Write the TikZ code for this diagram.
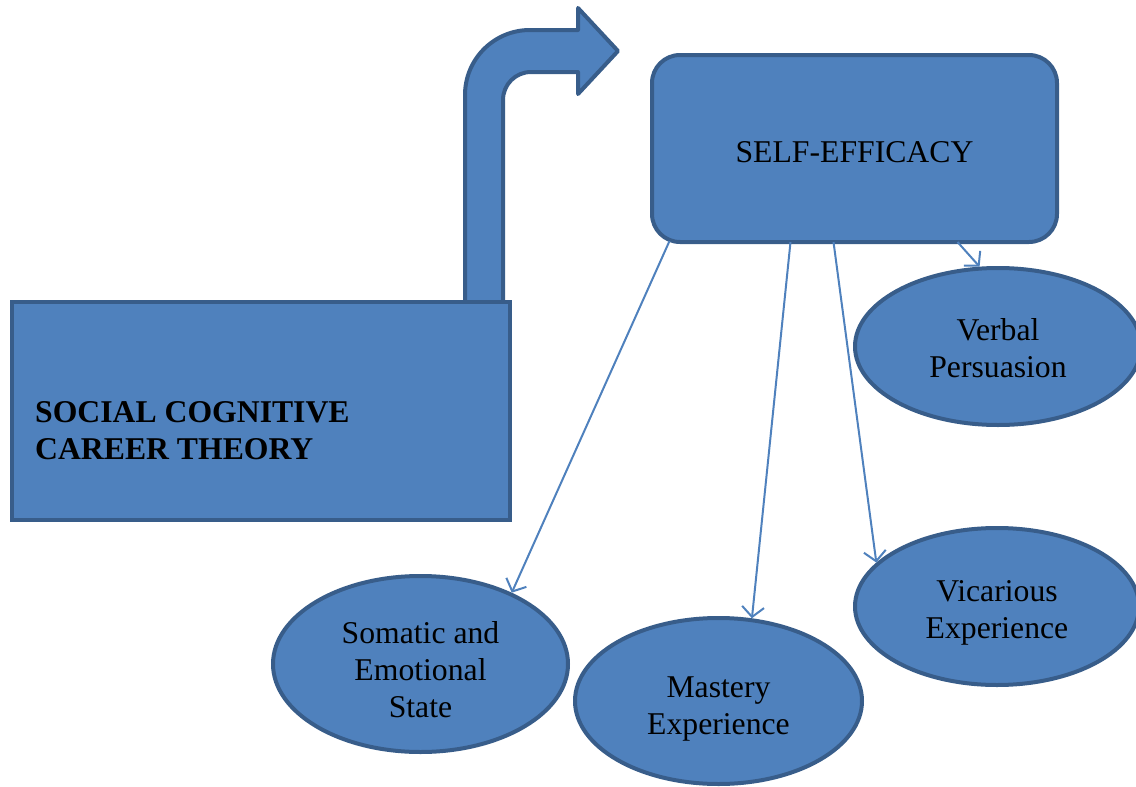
\documentclass[tikz,border=0pt]{standalone}
\usepackage{fontspec}
\setmainfont{Liberation Serif}
\usetikzlibrary{shapes.geometric,arrows.meta}
\definecolor{boxblue}{HTML}{4F81BD}
\definecolor{edgeblue}{HTML}{385D8A}
\newcommand{\diagfont}{\fontsize{31.7}{37}\selectfont}
\newcommand{\ovalpad}[1]{\rule{0pt}{#1}}
\tikzstyle{bluebox}=[rectangle,draw=edgeblue,fill=boxblue,
                     line width=4pt,inner sep=0pt,font=\diagfont]
\tikzstyle{blueoval}=[ellipse,draw=edgeblue,fill=boxblue,
                      line width=4pt,inner sep=0pt,align=center,font=\diagfont]
\tikzstyle{link}=[draw=boxblue,line width=2pt,
                  -{Straight Barb[length=10pt,width=22pt]}]

\begin{document}
\begin{tikzpicture}[x=1pt,y=-1pt]
    \useasboundingbox (0,0) rectangle (1136,787);
    \draw[draw=edgeblue,fill=boxblue,line width=4pt,line join=round]
      (465,302) -- (465,95) .. controls (465,59) and (494,30) .. (530,30)
      -- (578,30) -- (578,8) -- (618,51) -- (578,94) -- (578,72) -- (531,72)
      .. controls (515.5,72) and (503,84.5) .. (503,100) -- (503,302) -- cycle;
    \node (scct) at (261,411) [bluebox,minimum width=498pt,minimum height=218pt]{};
    \node (scctlabel) at (35,431) [anchor=west,align=left,inner sep=0pt,
      font=\bfseries\diagfont]{SOCIAL COGNITIVE\\CAREER THEORY};
    \node (self) at (854.5,148.5) [bluebox,rounded corners=28pt,
      minimum width=405pt,minimum height=187pt]{\ovalpad{28pt}SELF-EFFICACY};
    \node (verbal) at (998,346.5) [blueoval,minimum width=286pt,
      minimum height=157pt]{\ovalpad{26pt}Verbal\\Persuasion};
    \node (vicarious) at (997,606.5) [blueoval,minimum width=284pt,
      minimum height=157pt]{\ovalpad{33pt}Vicarious\\Experience};
    \node (mastery) at (718.5,701) [blueoval,minimum width=287pt,
      minimum height=166pt]{\ovalpad{36pt}Mastery\\Experience};
    \node (somatic) at (420.5,664) [blueoval,minimum width=295pt,
      minimum height=176pt]{\ovalpad{34pt}Somatic and\\Emotional\\State};
    \draw[link] ([xshift=-185pt,yshift=3pt]self.south) -- (somatic.38.6);
    \draw[link] ([xshift=-64pt,yshift=2pt]self.south) -- (mastery.68);
    \draw[link] ([xshift=-21pt,yshift=2pt]self.south) -- (vicarious.160.9);
    \draw[link] ([xshift=103pt,yshift=2pt]self.south) -- (verbal.103);
\end{tikzpicture}
\end{document}
